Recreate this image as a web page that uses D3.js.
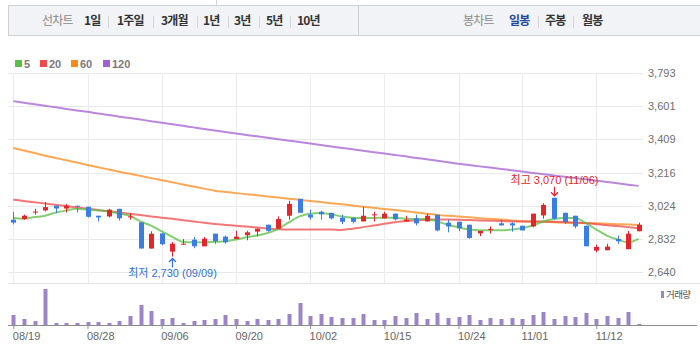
<!DOCTYPE html>
<html><head><meta charset="utf-8">
<script src="https://cdn.jsdelivr.net/npm/d3@7"></script>
<style>
body{margin:0;background:#fff;}
svg{display:block;font-family:"Liberation Sans",Arial,"Noto Sans CJK KR",sans-serif;}
</style>
</head><body>
<svg id="c" width="700" height="347"></svg>
<script>
// ---------- DATA ----------
const dates = ["08/19","08/20","08/21","08/22","08/23","08/26","08/27","08/28","08/29","08/30",
 "09/02","09/03","09/04","09/05","09/06","09/09","09/10","09/11","09/12","09/13",
 "09/19","09/20","09/23","09/24","09/25","09/26","09/27","09/30","10/02","10/04",
 "10/07","10/08","10/10","10/11","10/14","10/15","10/16","10/17","10/18","10/21",
 "10/22","10/23","10/24","10/25","10/28","10/29","10/30","10/31","11/01","11/04",
 "11/05","11/06","11/07","11/08","11/11","11/12","11/13","11/14","11/15","11/18"];
const openP = [2943,2947,2987,2997,3024,3008,3024,3018,2966,2962,
 3006,2958,2928,2776,2864,2758,2800,2827,2789,2862,
 2845,2831,2853,2874,2914,2891,2966,3064,2972,2989,
 2983,2954,2954,2933,2970,2951,2978,2933,2951,2933,
 2972,2926,2931,2914,2864,2887,2922,2922,2908,2904,
 2968,3070,2983,2966,2908,2764,2766,2831,2772,2876];
const closeP = [2926,2966,2990,3016,3008,3024,3018,2960,2956,3001,
 2951,2962,2776,2862,2801,2804,2804,2789,2833,2818,
 2812,2845,2870,2891,2879,2947,3035,2983,2956,2974,
 2951,2931,2931,2966,2974,2978,2945,2943,2922,2966,
 2881,2904,2893,2837,2878,2890,2910,2910,2881,2978,
 3029,2949,2929,2904,2789,2785,2787,2818,2862,2914];
const highP = [2989,2972,3006,3045,3024,3035,3024,3018,2966,3006,
 3006,2981,2928,2876,2864,2814,2831,2843,2843,2862,
 2851,2879,2879,2891,2914,2962,3053,3064,3001,2995,
 2983,2972,2954,3018,2989,2989,2978,2966,2972,2978,
 2972,2943,2931,2914,2878,2904,2943,2928,2908,2978,
 3039,3070,2983,2966,2908,2799,2804,2851,2878,2926];
const lowP = [2916,2943,2972,2991,2981,2985,2985,2956,2933,2956,
 2939,2943,2776,2776,2795,2730,2800,2778,2789,2803,
 2804,2831,2824,2847,2874,2891,2943,2983,2943,2943,
 2945,2918,2922,2933,2933,2951,2939,2933,2910,2933,
 2876,2870,2876,2833,2847,2862,2910,2874,2881,2899,
 2949,2943,2918,2893,2789,2754,2766,2803,2772,2876];
const volume = [100,60,40,360,20,20,20,30,30,20,
 40,90,200,140,60,70,20,40,50,60,
 100,60,40,60,50,60,110,220,90,110,
 80,70,70,110,50,50,90,70,120,60,
 120,70,80,100,50,70,60,70,60,100,
 130,60,90,80,120,60,90,70,130,10];
const ma5 = [2953,2949,2958,2966,2984,2997,3007,3001,2997,2991,
 2978,2966,2933,2909,2876,2843,2815,2812,2812,2815,
 2818,2828,2841,2851,2866,2890,2928,2962,2978,2982,
 2974,2962,2955,2953,2953,2955,2955,2949,2947,2947,
 2933,2914,2899,2886,2882,2882,2882,2886,2893,2909,
 2933,2947,2953,2953,2924,2886,2851,2828,2812,2832];
const ma20 = [3059,3051,3044,3037,3029,3022,3014,3007,2999,2992,
 2985,2977,2970,2962,2955,2948,2940,2933,2925,2918,
 2913,2908,2903,2898,2892,2887,2886,2886,2886,2886,
 2886,2884,2891,2900,2909,2920,2928,2935,2940,2943,
 2944,2944,2943,2941,2939,2937,2936,2933,2932,2932,
 2932,2931,2929,2926,2923,2917,2911,2906,2900,2894];
const ma60 = [3359,3344,3329,3314,3301,3287,3274,3260,3247,3234,
 3221,3209,3197,3184,3172,3160,3147,3135,3123,3111,
 3104,3097,3091,3085,3078,3071,3064,3058,3051,3045,
 3038,3032,3025,3018,3012,3005,2999,2992,2985,2978,
 2971,2966,2962,2957,2952,2948,2944,2939,2934,2932,
 2930,2928,2926,2925,2924,2922,2919,2917,2915,2913];
const ma120 = [3630,3621,3612,3603,3594,3585,3576,3568,3558,3550,
 3540,3532,3523,3514,3505,3496,3487,3478,3469,3460,
 3451,3442,3434,3426,3418,3409,3401,3393,3384,3376,
 3367,3359,3351,3342,3334,3326,3318,3310,3301,3293,
 3284,3276,3267,3260,3252,3245,3237,3230,3222,3214,
 3207,3199,3192,3184,3177,3169,3162,3154,3146,3139];
const maNames = ["5","20","60","120"];
const maColors = ["#5cbd44","#f04a4a","#f98b1e","#a35fd2"];
const yTicks = [2640,2832,3024,3216,3409,3601,3793];
const xTickLabels = ["08/19","08/28","09/06","09/20","10/02","10/15","10/24","11/01","11/12"];
const periodTabs = ["1일","1주일","3개월","1년","3년","5년","10년"];
const candleTabs = ["일봉","주봉","월봉"];
const highLabel = {date:"11/06", text:"최고 3,070 (11/06)"};
const lowLabel = {date:"09/09", text:"최저 2,730 (09/09)"};

// ---------- CHART ----------
const svg = d3.select("#c");
const UP = "#e3262a", DOWN = "#3b7de0";

// header bar
svg.append("line").attr("x1",216.5).attr("x2",216.5).attr("y1",0).attr("y2",5).attr("stroke","#cfd1d6");
svg.append("rect").attr("x",8.5).attr("y",5.5).attr("width",700).attr("height",30)
  .attr("fill","#f2f3f6").attr("stroke","#cdd0d5");
svg.append("line").attr("x1",358.5).attr("x2",358.5).attr("y1",6).attr("y2",35).attr("stroke","#cdd0d5");
const hdr = svg.append("g").attr("font-family","'Noto Sans CJK KR',sans-serif").attr("font-size",12).attr("letter-spacing",-0.8);
hdr.append("text").attr("x",42).attr("y",21).attr("dy","0.35em").attr("fill","#8a8a8a").text("선차트");
const tabX = [84,117,161,203,234,266,297];
periodTabs.forEach((t,i)=>{
  hdr.append("text").attr("x",tabX[i]).attr("y",21).attr("dy","0.35em").attr("fill","#333").attr("font-weight","bold").text(t);
});
[108,153,197,228,259,290,538,573].forEach(x=>{
  svg.append("line").attr("x1",x+0.5).attr("x2",x+0.5).attr("y1",16).attr("y2",28).attr("stroke","#d3d5da");
});
hdr.append("text").attr("x",463).attr("y",21).attr("dy","0.35em").attr("fill","#8a8a8a").text("봉차트");
const ctX = [509,545,582];
candleTabs.forEach((t,i)=>{
  hdr.append("text").attr("x",ctX[i]).attr("y",21).attr("dy","0.35em").attr("font-weight","bold")
    .attr("fill", i===0 ? "#2448a0" : "#333").text(t);
});

// legend
const legX = [15,40,71,103];
maNames.forEach((n,i)=>{
  svg.append("rect").attr("x",legX[i]).attr("y",60).attr("width",7).attr("height",7).attr("fill",maColors[i]);
  svg.append("text").attr("x",legX[i]+9).attr("y",64).attr("dy","0.35em").attr("font-size",11)
    .attr("font-weight","bold").attr("fill","#7a7a7a").text(n);
});

// scales
const left = 8, right = 643;
const x = d3.scalePoint().domain(dates).range([13.3, 638.7]);
const y = d3.scaleLinear().domain([2640, 3793]).range([272, 73]);
const yv = d3.scaleLinear().domain([0, 360]).range([325, 289]);

// grid
const grid = svg.append("g");
yTicks.forEach(t=>{
  grid.append("line").attr("x1",left).attr("x2",right).attr("y1",Math.round(y(t))+0.5).attr("y2",Math.round(y(t))+0.5)
    .attr("stroke","#e9e9e9");
});
xTickLabels.forEach(d=>{
  const xx = Math.round(x(d))+0.5;
  grid.append("line").attr("x1",xx).attr("x2",xx).attr("y1",73).attr("y2",283).attr("stroke","#ececec");
});
svg.append("line").attr("x1",left).attr("x2",700).attr("y1",283.5).attr("y2",283.5).attr("stroke","#e2e2e2");

// y axis labels
const yAxis = d3.axisRight(y).tickValues(yTicks).tickSize(0).tickPadding(0).tickFormat(d3.format(","));
const ya = svg.append("g").attr("transform","translate(648,0)").call(yAxis);
ya.select(".domain").remove();
ya.selectAll("text").attr("font-size",11).attr("fill","#6e6e6e").attr("font-family","'Liberation Sans',Arial,sans-serif");

// clip
svg.append("clipPath").attr("id","clip").append("rect").attr("x",left).attr("y",73).attr("width",right-left).attr("height",210);
const plot = svg.append("g").attr("clip-path","url(#clip)");

// moving averages
const line = d3.line().x((d,i)=>x(dates[i])).y(d=>y(d)).curve(d3.curveMonotoneX);
[ma120, ma60, ma20, ma5].forEach((arr,k)=>{
  const idx = 3-k;
  plot.append("path").attr("d", line(arr)).attr("fill","none")
    .attr("stroke", maColors[idx]).attr("stroke-width", 2).attr("stroke-opacity", 0.75);
});

// candles
const bw = 5;
const cg = plot.append("g");
dates.forEach((d,i)=>{
  const o = openP[i], c = closeP[i];
  const col = c >= o ? UP : DOWN;
  const cx = Math.round(x(d));
  cg.append("line").attr("x1",cx+0.5).attr("x2",cx+0.5).attr("y1",y(highP[i])).attr("y2",y(lowP[i]))
    .attr("stroke",col).attr("stroke-width",1);
  const top = y(Math.max(o,c)), bot = y(Math.min(o,c));
  cg.append("rect").attr("x",cx-2).attr("y",top).attr("width",bw).attr("height",Math.max(1,bot-top)).attr("fill",col);
});

// volume
svg.append("g").selectAll("rect").data(volume).join("rect")
  .attr("x",(v,i)=>Math.round(x(dates[i]))-1.5).attr("width",4)
  .attr("y",v=>yv(v)).attr("height",v=>yv(0)-yv(v)).attr("fill","#9b85c6");
svg.append("line").attr("x1",left).attr("x2",697).attr("y1",325.5).attr("y2",325.5).attr("stroke","#8d8d8d");

// x axis
const xAxis = d3.axisBottom(x).tickValues(xTickLabels).tickSize(4).tickPadding(3);
const xa = svg.append("g").attr("transform","translate(0,325)").call(xAxis);
xa.select(".domain").remove();
xa.selectAll("line").attr("stroke","#8d8d8d");
xa.selectAll("text").attr("font-size",11).attr("fill","#666").attr("text-anchor","start").attr("dx",-1)
  .attr("font-family","'Liberation Sans',Arial,sans-serif");

// volume legend
svg.append("rect").attr("x",661).attr("y",291).attr("width",3).attr("height",7).attr("fill","#9b85c6");
svg.append("text").attr("x",666).attr("y",295).attr("dy","0.35em").attr("font-size",9.5).attr("letter-spacing",-0.6)
  .attr("fill","#555").attr("font-family","'Noto Sans CJK KR',sans-serif").text("거래량");

// annotations
function arrow(xx, y1, y2, col){
  const dir = y2 > y1 ? -1 : 1;
  svg.append("path").attr("d",`M${xx},${y1}L${xx},${y2}M${xx-3.5},${y2+dir*3.5}L${xx},${y2}L${xx+3.5},${y2+dir*3.5}`)
    .attr("fill","none").attr("stroke",col).attr("stroke-width",1.2);
}
const hi = highP[dates.indexOf(highLabel.date)];
const hx = Math.round(x(highLabel.date))+0.5;
arrow(hx, y(hi)-11, y(hi)-2, "#e3262a");
svg.append("text").attr("x",hx).attr("y",y(hi)-18).attr("dy","0.35em").attr("text-anchor","middle")
  .attr("font-size",11).attr("fill","#e3262a").text(highLabel.text);
const lo = lowP[dates.indexOf(lowLabel.date)];
const lx = Math.round(x(lowLabel.date))+0.5;
arrow(lx, y(lo)+11, y(lo)+2, "#2f6fd6");
svg.append("text").attr("x",lx).attr("y",y(lo)+17).attr("dy","0.35em").attr("text-anchor","middle")
  .attr("font-size",11).attr("fill","#2f6fd6").text(lowLabel.text);
</script>
</body></html>
